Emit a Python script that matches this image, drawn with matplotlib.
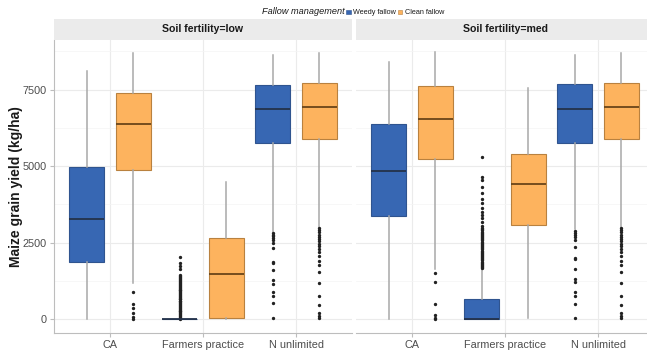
import matplotlib
matplotlib.use("Agg")
import matplotlib.pyplot as plt
from matplotlib.patches import Rectangle

plt.rcParams['font.family'] = ['Liberation Sans', 'DejaVu Sans']

# categories and groups
categories = ["CA", "Farmers practice", "N unlimited"]
panels = ["Soil fertility=low", "Soil fertility=med"]
groups = ["Weedy fallow", "Clean fallow"]
fill_colors = ["#3767B3", "#FDB35E"]
edge_colors = ["#2F548F", "#B9813F"]
median_colors = ["#24324A", "#6A4519"]

# box stats (kg/ha), order: CA, Farmers practice, N unlimited
low_weedy_whislo = [0, 0, 2850]
low_weedy_q1 = [1870, 0, 5740]
low_weedy_med = [3270, 0, 6850]
low_weedy_q3 = [4960, 0, 7650]
low_weedy_whishi = [8100, 0, 8630]

low_clean_whislo = [1190, 0, 3020]
low_clean_q1 = [4870, 20, 5870]
low_clean_med = [6360, 1470, 6920]
low_clean_q3 = [7400, 2660, 7720]
low_clean_whishi = [8680, 4490, 8700]

med_weedy_whislo = [0, 0, 2930]
med_weedy_q1 = [3380, 0, 5770]
med_weedy_med = [4840, 0, 6850]
med_weedy_q3 = [6370, 640, 7670]
med_weedy_whishi = [8410, 1630, 8630]

med_clean_whislo = [1630, 30, 3020]
med_clean_q1 = [5220, 3090, 5870]
med_clean_med = [6550, 4400, 6920]
med_clean_q3 = [7610, 5390, 7720]
med_clean_whishi = [8720, 7550, 8700]

# outliers
low_weedy_ca_out = []
low_weedy_fp_out = [15, 40, 75, 100, 130, 165, 190, 220, 255, 280, 310, 345, 370, 400,
                    430, 460, 490, 515, 545, 580, 605, 640, 670, 700, 725, 760, 790,
                    815, 850, 875, 905, 940, 965, 995, 1030, 1055, 1085, 1120, 1150,
                    1180, 1210, 1240, 1270, 1300, 1335, 1365, 1395, 1440,
                    1650, 1750, 1840, 2040]
low_weedy_nu_out = [2820, 2760, 2700, 2640, 2580, 2500, 2310, 1870, 1820, 1600,
                    1270, 1150, 890, 760, 510, 20]
low_clean_ca_out = [870, 480, 350, 200, 80, 0]
low_clean_fp_out = []
low_clean_nu_out = [2960, 2900, 2830, 2760, 2690, 2620, 2540, 2460, 2380, 2280,
                    2180, 2060, 1900, 1780, 1530, 1180, 740, 470, 200, 100, 20]

med_weedy_ca_out = []
med_weedy_fp_out = [1660, 1700, 1735, 1770, 1810, 1845, 1880, 1915, 1950, 1990,
                    2025, 2060, 2095, 2130, 2170, 2205, 2240, 2280, 2315, 2350,
                    2385, 2420, 2460, 2495, 2530, 2570, 2605, 2640, 2680, 2715,
                    2750, 2790, 2825, 2860, 2900, 2940, 2980, 3050,
                    3180, 3290, 3400, 3510, 3620, 3780, 3940, 4110, 4320, 4540,
                    4650, 5300]
med_weedy_nu_out = [2880, 2810, 2740, 2670, 2600, 2350, 2010, 1950, 1640, 1300,
                    1200, 880, 740, 480, 20]
med_clean_ca_out = [1490, 1220, 490, 130, 40, 0]
med_clean_fp_out = []
med_clean_nu_out = [2960, 2900, 2830, 2760, 2690, 2620, 2540, 2460, 2380, 2280,
                    2180, 2060, 1900, 1780, 1530, 1180, 740, 470, 200, 100, 20]

panel_data = [
    [(low_weedy_whislo, low_weedy_q1, low_weedy_med, low_weedy_q3, low_weedy_whishi,
      [low_weedy_ca_out, low_weedy_fp_out, low_weedy_nu_out]),
     (low_clean_whislo, low_clean_q1, low_clean_med, low_clean_q3, low_clean_whishi,
      [low_clean_ca_out, low_clean_fp_out, low_clean_nu_out])],
    [(med_weedy_whislo, med_weedy_q1, med_weedy_med, med_weedy_q3, med_weedy_whishi,
      [med_weedy_ca_out, med_weedy_fp_out, med_weedy_nu_out]),
     (med_clean_whislo, med_clean_q1, med_clean_med, med_clean_q3, med_clean_whishi,
      [med_clean_ca_out, med_clean_fp_out, med_clean_nu_out])],
]

W, H = 647, 351
fig = plt.figure(figsize=(W / 100, H / 100), dpi=100)
fig.patch.set_facecolor("white")

panel_left = [54, 356]
panel_w = 298
top, bottom = 40, 333
strip_top = 19
offsets = [-0.25, 0.25]

for p, name in enumerate(panels):
    ax = fig.add_axes([panel_left[p] / W, 1 - bottom / H, panel_w / W, (bottom - top) / H])
    xs = range(1, len(categories) + 1)
    for g in range(2):
        whislo, q1, med, q3, whishi, outs = panel_data[p][g]
        stats = []
        for i in range(len(categories)):
            stats.append(dict(whislo=whislo[i], q1=q1[i], med=med[i], q3=q3[i],
                              whishi=whishi[i], fliers=outs[i]))
        ax.bxp(stats, positions=[x + offsets[g] for x in xs], widths=0.375,
               patch_artist=True, showcaps=False, manage_ticks=False,
               boxprops=dict(facecolor=fill_colors[g], edgecolor=edge_colors[g], linewidth=0.8),
               medianprops=dict(color=median_colors[g], linewidth=1.3),
               whiskerprops=dict(color="#A8A8A8", linewidth=1.1),
               flierprops=dict(marker="o", markersize=1.4, markerfacecolor="#222222",
                               markeredgecolor="#222222", linestyle="none"))
    ax.set_xlim(0.4, 3.6)
    ax.set_ylim(-455, 9120)
    ax.set_xticks(list(xs))
    ax.set_xticklabels(categories)
    ax.set_yticks([0, 2500, 5000, 7500])
    ax.set_yticks([1250, 3750, 6250, 8750], minor=True)
    ax.grid(True, which="major", color="#EBEBEB", linewidth=0.8)
    ax.grid(True, which="minor", axis="y", color="#F4F4F4", linewidth=0.5)
    ax.set_axisbelow(True)
    for s in ["top", "right"]:
        ax.spines[s].set_visible(False)
    ax.spines["bottom"].set_color("#BDBDBD")
    ax.spines["left"].set_color("#BDBDBD")
    ax.tick_params(axis="both", which="major", labelsize=7.8, labelcolor="#4D4D4D",
                   color="#BDBDBD", length=3, pad=2)
    ax.tick_params(axis="y", which="minor", length=0)
    if p == 1:
        ax.spines["left"].set_visible(False)
        ax.tick_params(axis="y", which="both", left=False, labelleft=False)

    # strip header
    sax = fig.add_axes([panel_left[p] / W, 1 - top / H, panel_w / W, (top - strip_top) / H])
    sax.set_facecolor("#EBEBEB")
    sax.set_xticks([])
    sax.set_yticks([])
    for s in sax.spines.values():
        s.set_visible(False)
    sax.text(0.5, 0.5, name, ha="center", va="center", fontsize=7.6,
             fontweight="bold", color="#1A1A1A", transform=sax.transAxes)

fig.text(16 / W, 1 - 186.5 / H, "Maize grain yield (kg/ha)", rotation=90,
         ha="center", va="center", fontsize=10, fontweight="bold", color="#1A1A1A")

# legend on top
ly = 1 - 12 / H
fig.text(262 / W, ly, "Fallow management", fontsize=6.6, style="italic",
         ha="left", va="center", color="#1A1A1A")
key_x = [346, 398]
for g, lab in enumerate(groups):
    fig.patches.append(Rectangle((key_x[g] / W, ly - 2.2 / H), 4.5 / W, 4.5 / H,
                                 transform=fig.transFigure, facecolor=fill_colors[g],
                                 edgecolor=edge_colors[g], linewidth=0.4))
    fig.text((key_x[g] + 7) / W, ly, lab, fontsize=5.2, ha="left", va="center",
             color="#1A1A1A")

fig.savefig("out.png", dpi=100)
